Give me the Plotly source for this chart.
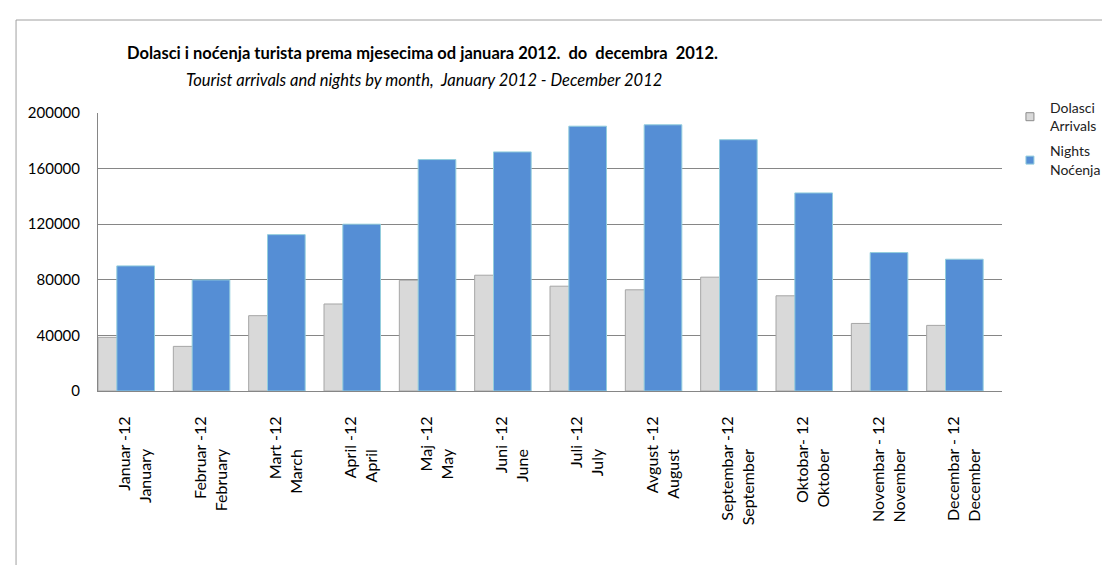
import plotly.graph_objects as go

NB = "\u00a0"

months_local = ["Januar -12", "Februar -12", "Mart -12", "April -12", "Maj -12", "Juni -12",
                "Juli -12", "Avgust -12", "Septembar -12", "Oktobar- 12", "Novembar - 12", "Decembar - 12"]
months_en = ["January", "February", "March", "April", "May", "June",
             "July", "August", "September", "Oktober", "November", "December"]

arrivals = [38600, 32100, 54200, 62600, 79700, 83300, 75400, 72800, 81900, 68500, 48600, 47200]
nights = [90000, 79900, 112500, 120000, 166500, 172000, 190500, 191500, 180800, 142500, 99600, 94800]

y_ticks = [0, 40000, 80000, 120000, 160000, 200000]

categories = [f"{a}<br>{b}{NB * 8}" for a, b in zip(months_local, months_en)]

FONT = "Lato"
ARR_FILL, ARR_LINE = "#D9D9D9", "#8c8c8c"
NIG_FILL, NIG_LINE = "#558ED5", "#93CDDD"

fig = go.Figure()
fig.add_trace(go.Bar(
    x=categories, y=arrivals, name="Dolasci<br>Arrivals", showlegend=False,
    offset=-0.5, width=0.5,
    marker=dict(color=ARR_FILL, line=dict(color="#a6a6a6", width=1)),
))
fig.add_trace(go.Bar(
    x=categories, y=nights, name="Nights<br>Noćenja", showlegend=False,
    offset=-0.25, width=0.5,
    marker=dict(color=NIG_FILL, line=dict(color=NIG_LINE, width=1)),
))
# legend entries with small square keys (as in the original)
fig.add_trace(go.Scatter(
    x=[None], y=[None], mode="markers", name="Dolasci<br>Arrivals", legendgroup="a",
    marker=dict(symbol="square", size=8, color=ARR_FILL, line=dict(color=ARR_LINE, width=1)),
))
fig.add_trace(go.Scatter(
    x=[None], y=[None], mode="markers", name="Nights<br>Noćenja", legendgroup="n",
    marker=dict(symbol="square", size=8, color=NIG_FILL, line=dict(color=NIG_LINE, width=1)),
))

L, R, T, B = 90, 110, 105, 182
W, H = 1110, 565
pw = W - L - R
ph = H - T - B

def px(x):
    return (x - L) / pw

def py(y):
    return (H - B - y) / ph

fig.update_layout(
    width=W, height=H,
    margin=dict(l=L, r=R, t=T, b=B),
    paper_bgcolor="white", plot_bgcolor="white",
    barmode="overlay",
    font=dict(family=FONT, size=15, color="#000000"),
    showlegend=True,
    legend=dict(x=px(1008), y=py(84), xanchor="left", yanchor="top",
                font=dict(family=FONT, size=14, color="#222222"),
                tracegroupgap=4, itemwidth=30),
    xaxis=dict(type="category", tickangle=-90, showline=True, linecolor="#868686", linewidth=1,
               showgrid=False, ticks="", ticklabelstandoff=18, automargin=False,
               tickfont=dict(family=FONT, size=16)),
    yaxis=dict(range=[0, 200000], tickvals=y_ticks, tickformat="d",
               showline=True, linecolor="#868686", linewidth=1,
               showgrid=True, gridcolor="#868686", gridwidth=1,
               zeroline=False, ticks="", ticklabelstandoff=14, automargin=False,
               tickfont=dict(family=FONT, size=15)),
    annotations=[
        dict(text="<b>Dolasci i noćenja turista prema mjesecima od januara 2012.  do  decembra  2012.</b>",
             xref="paper", yref="paper", x=px(417), y=py(45), xanchor="center", yanchor="middle",
             showarrow=False, font=dict(family=FONT, size=16.5, color="#000000")),
        dict(text="<i>Tourist arrivals and nights by month,  January 2012 - December 2012</i>",
             xref="paper", yref="paper", x=px(418), y=py(72), xanchor="center", yanchor="middle",
             showarrow=False, font=dict(family=FONT, size=16.5, color="#000000")),
    ],
    shapes=[
        dict(type="rect", xref="paper", yref="paper",
             x0=px(7.5), x1=px(1130), y0=py(600), y1=py(12),
             line=dict(color="#a0a0a0", width=1), fillcolor="rgba(0,0,0,0)", layer="below"),
    ],
)

fig.write_html("out.html")
